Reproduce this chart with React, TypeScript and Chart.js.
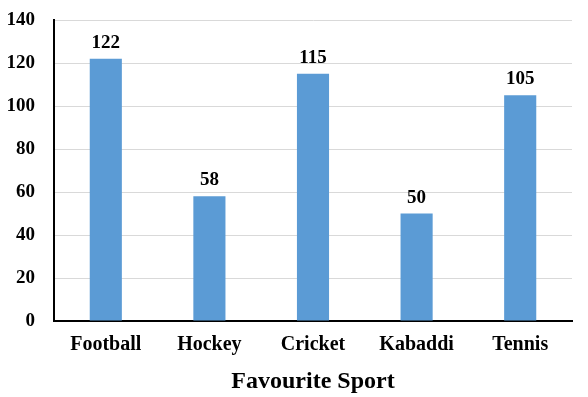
import React, { useEffect, useRef } from "react";
import { Chart, registerables } from "chart.js";

Chart.register(...registerables);

const categories = ["Football", "Hockey", "Cricket", "Kabaddi", "Tennis"];
const values = [122, 58, 115, 50, 105];
const xTitle = "Favourite Sport";

const FONT = "'Liberation Serif', 'Times New Roman', serif";

const valueLabels = {
  id: "valueLabels",
  afterDatasetsDraw(chart: any) {
    const ctx = chart.ctx;
    const meta = chart.getDatasetMeta(0);
    ctx.save();
    ctx.font = `bold 19px ${FONT}`;
    ctx.fillStyle = "#000";
    ctx.textAlign = "center";
    ctx.textBaseline = "alphabetic";
    meta.data.forEach((bar: any, i: number) => {
      ctx.fillText(String(values[i]), bar.x, bar.y - 11);
    });
    ctx.restore();
  },
};

export default function App() {
  const ref = useRef<HTMLCanvasElement>(null);
  useEffect(() => {
    const chart = new Chart(ref.current!, {
      type: "bar",
      data: {
        labels: categories,
        datasets: [
          {
            data: values,
            backgroundColor: "#5B9BD5",
            barPercentage: 0.31,
            categoryPercentage: 1,
          },
        ],
      },
      options: {
        animation: false,
        responsive: false,
        maintainAspectRatio: false,
        layout: { padding: { top: 0, right: 8, left: 0, bottom: 0 } },
        plugins: { legend: { display: false }, tooltip: { enabled: false } },
        scales: {
          x: {
            grid: { display: false, drawTicks: false },
            border: { display: true, color: "#000", width: 2 },
            ticks: {
              color: "#000",
              padding: 12,
              font: { family: FONT, size: 20, weight: "bold" },
            },
            title: {
              display: true,
              text: xTitle,
              color: "#000",
              font: { family: FONT, size: 24, weight: "bold" },
              padding: { top: 8, bottom: 1 },
            },
            afterFit: (s: any) => {
              s.height = 76;
              s.paddingLeft = 0;
              s.paddingRight = 0;
            },
          },
          y: {
            min: 0,
            max: 140,
            ticks: {
              stepSize: 20,
              color: "#000",
              padding: 19,
              font: { family: FONT, size: 19, weight: "bold" },
            },
            grid: { color: "#d9d9d9", drawTicks: false, lineWidth: 1 },
            border: { display: true, color: "#000", width: 2 },
            afterFit: (s: any) => {
              s.width = 46;
              s.paddingTop = 12;
              s.paddingBottom = 0;
            },
          },
        },
      },
      plugins: [valueLabels],
    });
    return () => chart.destroy();
  }, []);
  return (
    <div style={{ width: 572, height: 389 }}>
      <canvas ref={ref} width={572} height={389} />
    </div>
  );
}
